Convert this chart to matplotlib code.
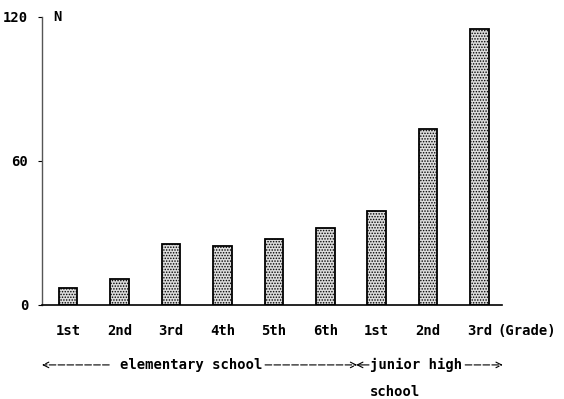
import matplotlib.pyplot as plt
import matplotlib.transforms as mtransforms

grades = ["1st", "2nd", "3rd", "4th", "5th", "6th", "1st", "2nd", "3rd"]
counts = [7, 11, 25.5, 24.5, 27.5, 32, 39, 73.5, 115]
yticks = [0, 60, 120]

plt.rcParams['font.family'] = ['DejaVu Sans Mono']
plt.rcParams['font.weight'] = 'bold'
plt.rcParams['hatch.linewidth'] = 0.7

fig = plt.figure(figsize=(5.64, 3.99), dpi=100)
ax = fig.add_axes([0.0745, 0.2356, 0.816, 0.722])

x = list(range(len(grades)))
ax.bar(x, counts, width=0.36, facecolor="#dcdcdc", edgecolor="black",
       hatch="......", linewidth=1.3)

ax.set_xlim(-0.506, 8.44)
ax.set_ylim(0, 120)
ax.set_yticks(yticks)
ax.set_yticklabels([str(v) for v in yticks], fontsize=10)
ax.set_xticks(x)
ax.set_xticklabels(grades, fontsize=10)
ax.tick_params(axis='x', length=0, pad=14)
ax.tick_params(axis='y', length=3, direction='out', pad=7)
for s in ["top", "right"]:
    ax.spines[s].set_visible(False)
ax.spines["left"].set_color("#555555")
ax.spines["left"].set_linewidth(1.0)
ax.spines["bottom"].set_linewidth(1.2)

ax.text(0.025, 1.0, "N", transform=ax.transAxes, fontsize=10, va="center", ha="left")

# "(Grade)" placed 14pt below the axis, like the tick labels
trans = mtransforms.blended_transform_factory(ax.transData, ax.transAxes)
grade_off = mtransforms.offset_copy(trans, fig=fig, y=-14, units="points")
ax.text(8.35, 0, "(Grade)", transform=grade_off, fontsize=10, va="top", ha="left")

yrow = -0.208
arrow_kw = dict(arrowstyle="->", lw=0.8, linestyle=(0, (6, 2)), color="black",
                shrinkA=0, shrinkB=0)
ax.annotate("", xy=(-0.506, yrow), xytext=(0.80, yrow), xycoords=trans,
            textcoords=trans, arrowprops=arrow_kw, annotation_clip=False)
ax.text(2.40, yrow, "elementary school", transform=trans, fontsize=10,
        va="center", ha="center")
ax.annotate("", xy=(5.62, yrow), xytext=(3.83, yrow), xycoords=trans,
            textcoords=trans, arrowprops=arrow_kw, annotation_clip=False)
ax.annotate("", xy=(5.60, yrow), xytext=(5.85, yrow), xycoords=trans,
            textcoords=trans, arrowprops=dict(arrowstyle="->", lw=0.8, color="black",
                                              shrinkA=0, shrinkB=0),
            annotation_clip=False)
ax.text(5.86, yrow, "junior high", transform=trans, fontsize=10,
        va="center", ha="left")
ax.annotate("", xy=(8.45, yrow), xytext=(7.72, yrow), xycoords=trans,
            textcoords=trans, arrowprops=arrow_kw, annotation_clip=False)
ax.text(5.86, -0.302, "school", transform=trans, fontsize=10,
        va="center", ha="left")

fig.savefig("out.png", dpi=100)
